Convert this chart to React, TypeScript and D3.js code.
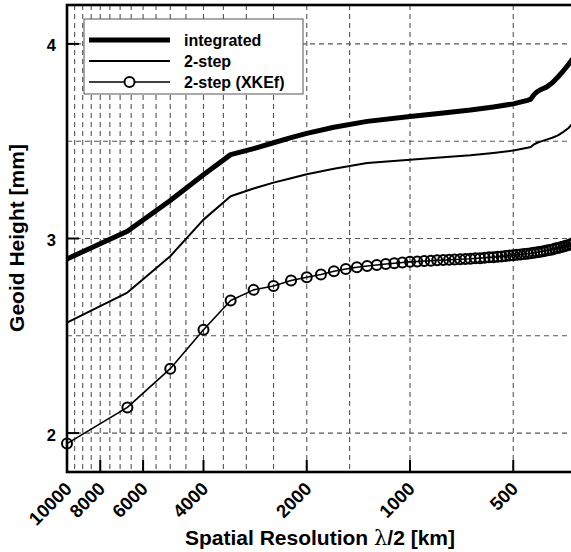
import React from "react";
import * as d3 from "d3";

// Spherical harmonic degree n; spatial resolution λ/2 = 20000 / n km
const integratedDeg = [2, 3, 4, 5, 6, 7, 8, 9, 10, 12, 15, 20, 25, 30, 35, 40, 44, 45, 46, 47, 48, 50, 52, 54, 56, 58, 60];
const integratedVal = [2.895, 3.037, 3.195, 3.328, 3.431, 3.462, 3.492, 3.518, 3.54, 3.572, 3.602, 3.627, 3.645, 3.66, 3.676, 3.692, 3.71, 3.716, 3.74, 3.755, 3.764, 3.778, 3.8, 3.83, 3.862, 3.895, 3.93];

const twoStepDeg = [2, 3, 4, 5, 6, 7, 8, 9, 10, 12, 15, 20, 25, 30, 35, 40, 44, 45, 46, 47, 48, 50, 52, 54, 56, 58, 60];
const twoStepVal = [2.568, 2.722, 2.909, 3.097, 3.217, 3.257, 3.287, 3.31, 3.33, 3.358, 3.388, 3.405, 3.418, 3.428, 3.44, 3.452, 3.466, 3.47, 3.484, 3.492, 3.498, 3.508, 3.518, 3.53, 3.548, 3.568, 3.598];

const xkefDeg = [
  2, 3, 4, 5, 6, 7, 8, 9, 10, 11, 12, 13, 14, 15, 16, 17, 18, 19, 20, 21, 22, 23, 24, 25, 26, 27, 28, 29, 30, 31,
  32, 33, 34, 35, 36, 37, 38, 39, 40, 41, 42, 43, 44, 45, 46, 47, 48, 49, 50, 51, 52, 53, 54, 55, 56, 57, 58, 59, 60,
];
const xkefVal = [
  1.946, 2.132, 2.331, 2.531, 2.681, 2.736, 2.756, 2.784, 2.801, 2.815, 2.832, 2.843, 2.852, 2.859, 2.864, 2.869,
  2.873, 2.877, 2.88, 2.882, 2.884, 2.886, 2.888, 2.889, 2.891, 2.892, 2.893, 2.895, 2.896, 2.898, 2.899, 2.901,
  2.903, 2.904, 2.906, 2.908, 2.91, 2.912, 2.914, 2.916, 2.918, 2.92, 2.922, 2.924, 2.927, 2.929, 2.932, 2.935,
  2.938, 2.941, 2.944, 2.948, 2.951, 2.955, 2.959, 2.963, 2.967, 2.972, 2.977,
];

const xTickLabels = [10000, 8000, 6000, 4000, 2000, 1000, 500];
const yTickLabels = [2, 3, 4];
const yGridValues = [2, 2.5, 3, 3.5, 4];
const xGridValues = d3.range(9500, 499, -500);

const legendNames = ["integrated", "2-step", "2-step (XKEf)"];

const W = 571;
const H = 552;
const left = 67;
const top = 5;
const bottom = 472;
const right = 67 + 343 * Math.log10(30);

const FONT = "'Liberation Sans', Arial, Helvetica, sans-serif";

export default function App() {
  const x = d3.scaleLog().domain([10000, 20000 / 60]).range([left, right]);
  const y = d3.scaleLinear().domain([1.8, 4.2]).range([bottom, top]);

  const toPts = (deg: number[], val: number[]) => deg.map((n, i) => [20000 / n, val[i]] as [number, number]);
  const line = d3
    .line<[number, number]>()
    .x((d) => x(d[0]))
    .y((d) => y(d[1]));

  const integrated = toPts(integratedDeg, integratedVal);
  const twoStep = toPts(twoStepDeg, twoStepVal);
  const xkef = toPts(xkefDeg, xkefVal);

  const gridColor = "#555";
  const lx0 = 89;
  const lx1 = 170;
  const ly = [40, 61, 82];

  return (
    <svg width={W} height={H} style={{ position: "absolute", left: 0, top: 0, background: "#fff" }}>
      <defs>
        <clipPath id="plot">
          <rect x={left} y={top} width={right - left} height={bottom - top} />
        </clipPath>
      </defs>
      <rect x={0} y={0} width={W} height={H} fill="#fff" />

      {/* grid */}
      <g stroke={gridColor} strokeWidth={1.1} strokeDasharray="5,4" fill="none">
        {xGridValues.map((v) => (
          <line key={"gx" + v} x1={x(v)} x2={x(v)} y1={top} y2={bottom} />
        ))}
        {yGridValues.map((v) => (
          <line key={"gy" + v} x1={left} x2={right} y1={y(v)} y2={y(v)} />
        ))}
      </g>

      {/* series */}
      <g clipPath="url(#plot)" fill="none" stroke="#000" strokeLinejoin="round">
        <path d={line(integrated) || ""} strokeWidth={5} />
        <path d={line(twoStep) || ""} strokeWidth={2} />
        <path d={line(xkef) || ""} strokeWidth={1.6} />
      </g>

      {/* frame */}
      <rect x={left} y={top} width={right - left} height={bottom - top} fill="none" stroke="#000" strokeWidth={2.6} />

      <g fill="none" stroke="#000">
        {xkef.map((d, i) => (
          <circle key={"c" + i} cx={x(d[0])} cy={y(d[1])} r={5} strokeWidth={2} />
        ))}
      </g>

      {/* legend */}
      <g>
        <rect x={84} y={19} width={219} height={75} fill="#fff" stroke="#555" strokeWidth={1} />
        <line x1={lx0} x2={lx1} y1={ly[0]} y2={ly[0]} stroke="#000" strokeWidth={5} />
        <line x1={lx0} x2={lx1} y1={ly[1]} y2={ly[1]} stroke="#000" strokeWidth={2} />
        <line x1={lx0} x2={lx1} y1={ly[2]} y2={ly[2]} stroke="#000" strokeWidth={1.6} />
        <circle cx={(lx0 + lx1) / 2} cy={ly[2]} r={5} fill="#fff" stroke="#000" strokeWidth={2} />
        {legendNames.map((name, i) => (
          <text
            key={name}
            x={184}
            y={ly[i] + 5.5}
            fontFamily={FONT}
            fontWeight="bold"
            fontSize={16}
            fill="#000"
          >
            {name}
          </text>
        ))}
      </g>

      {/* ticks */}
      <g stroke="#000" strokeWidth={2}>
        {xTickLabels.map((v) => (
          <line key={"tx" + v} x1={x(v)} x2={x(v)} y1={bottom} y2={bottom - 12} />
        ))}
        {yTickLabels.map((v) => (
          <line key={"ty" + v} x1={left} x2={left + 12} y1={y(v)} y2={y(v)} />
        ))}
      </g>

      {/* tick labels */}
      <g fontFamily={FONT} fontWeight="bold" fill="#000">
        {xTickLabels.map((v) => (
          <text
            key={"lx" + v}
            fontSize={18.5}
            textAnchor="end"
            transform={`translate(${x(v) + 6},${bottom + 18}) rotate(-45)`}
          >
            {v}
          </text>
        ))}
        {yTickLabels.map((v) => (
          <text key={"ly" + v} fontSize={16.5} textAnchor="end" x={56} y={y(v) + 7.5}>
            {v}
          </text>
        ))}
      </g>

      {/* axis titles */}
      <text
        fontFamily={FONT}
        fontWeight="bold"
        fontSize={21}
        textAnchor="middle"
        transform={`translate(23.5,238) rotate(-90)`}
      >
        Geoid Height [mm]
      </text>
      <text fontFamily={FONT} fontWeight="bold" fontSize={21} textAnchor="middle" x={320} y={545}>
        Spatial Resolution{" "}
        <tspan fontFamily="'DejaVu Serif', 'Liberation Serif', serif" fontWeight="normal">
          λ
        </tspan>
        /2 [km]
      </text>
    </svg>
  );
}
